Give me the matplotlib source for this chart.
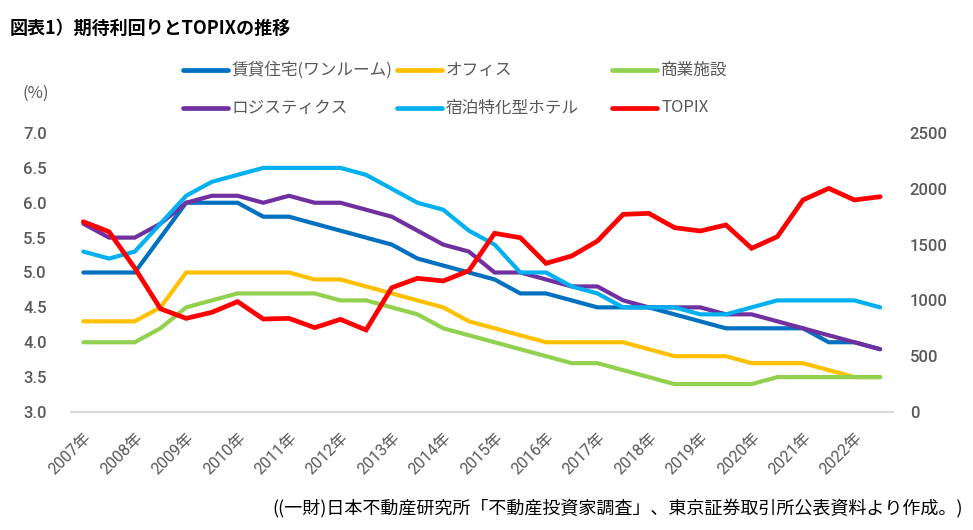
import numpy as np
import matplotlib
matplotlib.use("Agg")
import matplotlib.pyplot as plt
from matplotlib.lines import Line2D

plt.rcParams['font.family'] = ['Noto Sans CJK JP', 'DejaVu Sans']

# semiannual survey points, 2007 - 2022
years = ['2007年', '2008年', '2009年', '2010年', '2011年', '2012年', '2013年', '2014年',
         '2015年', '2016年', '2017年', '2018年', '2019年', '2020年', '2021年', '2022年']

residential = [5.0, 5.0, 5.0, 5.5, 6.0, 6.0, 6.0, 5.8, 5.8, 5.7, 5.6, 5.5, 5.4, 5.2, 5.1, 5.0,
               4.9, 4.7, 4.7, 4.6, 4.5, 4.5, 4.5, 4.4, 4.3, 4.2, 4.2, 4.2, 4.2, 4.0, 4.0, 3.9]
office = [4.3, 4.3, 4.3, 4.5, 5.0, 5.0, 5.0, 5.0, 5.0, 4.9, 4.9, 4.8, 4.7, 4.6, 4.5, 4.3,
          4.2, 4.1, 4.0, 4.0, 4.0, 4.0, 3.9, 3.8, 3.8, 3.8, 3.7, 3.7, 3.7, 3.6, 3.5, 3.5]
retail = [4.0, 4.0, 4.0, 4.2, 4.5, 4.6, 4.7, 4.7, 4.7, 4.7, 4.6, 4.6, 4.5, 4.4, 4.2, 4.1,
          4.0, 3.9, 3.8, 3.7, 3.7, 3.6, 3.5, 3.4, 3.4, 3.4, 3.4, 3.5, 3.5, 3.5, 3.5, 3.5]
logistics = [5.7, 5.5, 5.5, 5.7, 6.0, 6.1, 6.1, 6.0, 6.1, 6.0, 6.0, 5.9, 5.8, 5.6, 5.4, 5.3,
             5.0, 5.0, 4.9, 4.8, 4.8, 4.6, 4.5, 4.5, 4.5, 4.4, 4.4, 4.3, 4.2, 4.1, 4.0, 3.9]
hotel = [5.3, 5.2, 5.3, 5.7, 6.1, 6.3, 6.4, 6.5, 6.5, 6.5, 6.5, 6.4, 6.2, 6.0, 5.9, 5.6,
         5.4, 5.0, 5.0, 4.8, 4.7, 4.5, 4.5, 4.5, 4.4, 4.4, 4.5, 4.6, 4.6, 4.6, 4.6, 4.5]
topix = [1705, 1615, 1290, 925, 839, 893, 989, 833, 839, 756, 830, 735, 1114, 1198, 1174, 1266,
         1601, 1562, 1332, 1398, 1532, 1771, 1780, 1652, 1622, 1676, 1467, 1571, 1900, 2004, 1900, 1929]

names = ['賃貸住宅(ワンルーム)', 'オフィス', '商業施設', 'ロジスティクス', '宿泊特化型ホテル', 'TOPIX']
colors = ['#0070C0', '#FFC000', '#92D050', '#7030A0', '#00B0F0', '#FF0000']

W, H = 973, 530
fig = plt.figure(figsize=(W / 100, H / 100), dpi=100)
ax1 = fig.add_axes([70.5 / W, (H - 412) / H, (893 - 70.5) / W, (412 - 133) / H])
ax2 = ax1.twinx()

x = np.arange(len(residential))
for vals, c in zip([residential, office, retail, logistics, hotel], colors[:5]):
    ax1.plot(x, vals, color=c, lw=3.0, solid_capstyle='round', solid_joinstyle='miter')
ax2.plot(x, topix, color=colors[5], lw=3.4, solid_capstyle='round', solid_joinstyle='miter')

ax1.set_xlim(-0.5, len(x) - 0.5)
ax1.set_ylim(3.0, 7.0)
ax2.set_ylim(0, 2500)
ax1.set_yticks(np.arange(3.0, 7.01, 0.5))
ax1.set_yticklabels(['%.1f' % v for v in np.arange(3.0, 7.01, 0.5)])
ax2.set_yticks(np.arange(0, 2501, 500))

gray = '#595959'
tickfont = ['Roboto', 'Noto Sans CJK JP']
ax1.set_xticks(x[::2])
ax1.set_xticklabels(years, rotation=45, ha='right', va='top', rotation_mode='anchor',
                    family=tickfont, fontsize=11.5, color=gray)
for lab in ax1.get_yticklabels():
    lab.set_family(tickfont)
    lab.set_fontsize(12)
    lab.set_color(gray)
    lab.set_fontweight('medium')
for lab in ax2.get_yticklabels():
    lab.set_family(tickfont)
    lab.set_fontsize(12)
    lab.set_color(gray)
    lab.set_fontweight('medium')

ax1.tick_params(axis='x', length=0, pad=13)
ax1.tick_params(axis='y', length=0, pad=17)
ax2.tick_params(axis='y', length=0, pad=12)

for a in (ax1, ax2):
    for s in ['top', 'left', 'right']:
        a.spines[s].set_visible(False)
    a.spines['bottom'].set_color('#D9D9D9')
    a.spines['bottom'].set_linewidth(1.5)
ax2.spines['bottom'].set_visible(False)

# title and notes
fig.text(10 / W, 1 - 28 / H, '図表1）期待利回りとTOPIXの推移', fontsize=13, fontweight='bold',
         color='#000000', va='center', ha='left')
fig.text(22 / W, 1 - 93 / H, '(%)', fontsize=12, color=gray, va='center', ha='left')
fig.text(963 / W, 1 - 508 / H, '((一財)日本不動産研究所「不動産投資家調査」、東京証券取引所公表資料より作成。)',
         fontsize=13, color='#000000', va='center', ha='right')

# legend, 3 columns x 2 rows
col_x = [183, 397, 612]
row_y = [70, 108]
for i, (nm, c) in enumerate(zip(names, colors)):
    cx = col_x[i % 3]
    ry = row_y[i // 3]
    fig.add_artist(Line2D([cx / W, (cx + 45) / W], [1 - ry / H, 1 - ry / H], color=c, lw=3.4,
                          solid_capstyle='round', transform=fig.transFigure))
    fig.text((cx + 49) / W, 1 - ry / H, nm, fontsize=12, color=gray, va='center', ha='left')

plt.savefig('out.png', dpi=100)
